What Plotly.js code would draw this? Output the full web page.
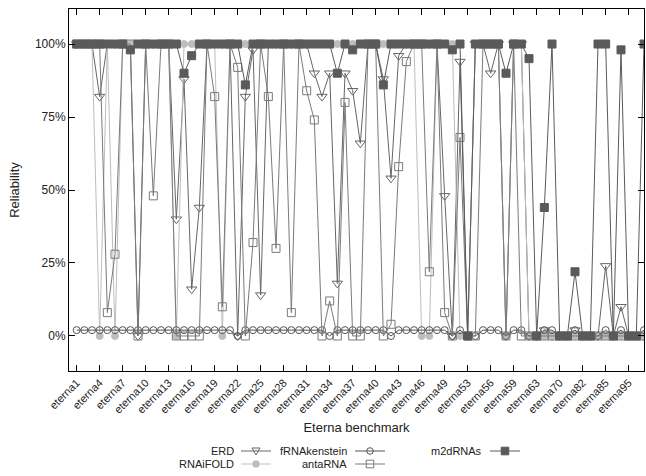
<!DOCTYPE html>
<html>
<head>
<meta charset="utf-8">
<script src="https://cdn.plot.ly/plotly-3.0.1.min.js"></script>
<style>html,body{margin:0;padding:0;background:#fff;}#chart{width:646px;height:476px;}</style>
</head>
<body>
<div id="chart"></div>
<script>
// Categories (Eterna benchmark puzzles)
const categories = [
  "eterna1","eterna2","eterna3","eterna4","eterna5","eterna6","eterna7","eterna8","eterna9","eterna10",
  "eterna11","eterna12","eterna13","eterna14","eterna15","eterna16","eterna17","eterna18","eterna19","eterna20",
  "eterna21","eterna22","eterna23","eterna24","eterna25","eterna26","eterna27","eterna28","eterna29","eterna30",
  "eterna31","eterna32","eterna33","eterna34","eterna35","eterna36","eterna37","eterna38","eterna39","eterna40",
  "eterna41","eterna42","eterna43","eterna44","eterna45","eterna46","eterna47","eterna48","eterna49","eterna50",
  "eterna52","eterna53","eterna54","eterna55","eterna56","eterna57","eterna58","eterna59","eterna60","eterna62",
  "eterna63","eterna65","eterna67","eterna70","eterna74","eterna78","eterna82","eterna83","eterna84","eterna85",
  "eterna88","eterna91","eterna95","eterna97","eterna100"
];
const tickLabels = ["eterna1","eterna4","eterna7","eterna10","eterna13","eterna16","eterna19","eterna22","eterna25",
  "eterna28","eterna31","eterna34","eterna37","eterna40","eterna43","eterna46","eterna49","eterna53","eterna56",
  "eterna59","eterna63","eterna70","eterna82","eterna85","eterna95"];
const yTickVals = [0, 25, 50, 75, 100];
const yTickText = ["0%", "25%", "50%", "75%", "100%"];

// Series values (reliability, %)
const ERD = [
  100,100,100,82,100,100,100,100,0,100,
  100,100,100,40,88,16,44,100,100,100,
  100,0,82,98,14,100,100,100,100,100,
  100,90,82,90,18,90,84,66,100,100,
  88,54,96,100,100,100,100,100,48,0,
  94,0,100,100,90,100,0,100,100,0,
  0,2,0,0,0,2,0,0,0,24,
  0,10,0,0,0
];
const RNAiFOLD = [
  100,100,100,0,100,0,100,100,100,100,
  100,100,100,0,100,100,100,100,100,0,
  100,100,100,100,100,100,100,100,100,100,
  100,100,100,100,100,100,100,100,100,100,
  100,100,100,100,100,0,0,100,100,100,
  0,0,100,100,100,100,0,100,100,0,
  0,0,0,0,0,0,0,0,0,0,
  0,0,0,0,0
];
const fRNAkenstein = [
  2,2,2,2,2,2,2,2,2,2,
  2,2,2,2,2,2,2,2,2,2,
  2,0,2,2,2,2,2,2,2,2,
  2,2,2,0,2,2,2,2,2,2,
  2,0,2,2,2,2,2,2,2,0,
  2,0,0,2,2,2,0,2,2,0,
  0,2,2,0,0,2,0,0,0,2,
  0,2,0,0,2
];
const antaRNA = [
  100,100,100,100,8,28,100,100,0,100,
  48,100,100,0,0,0,0,100,82,10,
  100,92,0,32,100,82,30,100,8,100,
  84,74,0,12,0,80,0,0,100,100,
  0,4,58,94,100,100,22,100,8,0,
  68,0,0,100,100,100,0,100,0,0,
  0,0,0,0,0,0,0,0,0,0,
  0,0,0,0,0
];
const m2dRNAs = [
  100,100,100,100,100,100,100,98,100,100,
  100,100,100,100,90,96,100,100,100,100,
  100,100,86,100,100,100,100,100,100,100,
  100,100,100,100,90,100,98,100,100,100,
  86,100,100,100,100,100,100,100,100,98,
  100,0,100,100,100,100,90,100,100,95,
  0,44,100,0,0,22,0,0,100,100,
  0,98,0,0,100
];

const seriesNames = ["ERD", "RNAiFOLD", "fRNAkenstein", "antaRNA", "m2dRNAs"];
const seriesValues = [ERD, RNAiFOLD, fRNAkenstein, antaRNA, m2dRNAs];
const styles = {
  "ERD":          {color: "#666666", symbol: "triangle-down-open", size: 9},
  "RNAiFOLD":     {color: "#bdbdbd", symbol: "circle", size: 7},
  "fRNAkenstein": {color: "#555555", symbol: "circle-open", size: 7},
  "antaRNA":      {color: "#7a7a7a", symbol: "square-open", size: 8},
  "m2dRNAs":      {color: "#5a5a5a", symbol: "square", size: 8}
};

const traces = seriesNames.map((name, k) => ({
  type: "scatter",
  mode: "lines+markers",
  name: name,
  x: categories,
  y: seriesValues[k],
  line: {color: styles[name].color, width: 1},
  marker: {symbol: styles[name].symbol, size: styles[name].size, color: styles[name].color,
           line: {color: styles[name].color, width: 1}},
  showlegend: false,
  hoverinfo: "x+y+name"
}));

const W = 646, H = 476;
const M = {l: 69, r: 2, t: 9, b: 105};
const PW = W - M.l - M.r, PH = H - M.t - M.b;
const px = v => (v - M.l) / PW;
const py = v => (H - M.b - v) / PH;

// Gnuplot-style key: text on the left, sample on the right
const keyRows = [451, 464];
const keyCols = [{text: 236, s0: 241, s1: 271}, {text: 349, s0: 355, s1: 385}, {text: 484, s0: 490, s1: 520}];
const keyPlace = {"ERD": [0, 0], "RNAiFOLD": [0, 1], "fRNAkenstein": [1, 0], "antaRNA": [1, 1], "m2dRNAs": [2, 0]};
const annotations = [];
const shapes = [];
seriesNames.forEach(name => {
  const [c, r] = keyPlace[name];
  const col = keyCols[c], yy = keyRows[r], st = styles[name];
  annotations.push({text: name, xref: "paper", yref: "paper", x: px(col.text), y: py(yy),
    xanchor: "right", yanchor: "middle", showarrow: false,
    font: {family: "Liberation Sans, Arial, sans-serif", size: 11, color: "#222"}});
  shapes.push({type: "line", xref: "paper", yref: "paper", x0: px(col.s0), x1: px(col.s1), y0: py(yy), y1: py(yy),
    line: {color: st.color, width: 1}});
  const cx = (col.s0 + col.s1) / 2;
  if (st.symbol === "triangle-down-open") {
    const h = 4;
    shapes.push({type: "path", xref: "paper", yref: "paper",
      path: `M ${px(cx - h)},${py(yy - h + 1)} L ${px(cx + h)},${py(yy - h + 1)} L ${px(cx)},${py(yy + h)} Z`,
      line: {color: st.color, width: 1}, fillcolor: "rgba(0,0,0,0)"});
  } else if (st.symbol.startsWith("circle")) {
    const rr = 3.3;
    shapes.push({type: "circle", xref: "paper", yref: "paper", x0: px(cx - rr), x1: px(cx + rr), y0: py(yy + rr), y1: py(yy - rr),
      line: {color: st.color, width: 1}, fillcolor: st.symbol === "circle" ? st.color : "rgba(0,0,0,0)"});
  } else {
    const rr = 3.8;
    shapes.push({type: "rect", xref: "paper", yref: "paper", x0: px(cx - rr), x1: px(cx + rr), y0: py(yy + rr), y1: py(yy - rr),
      line: {color: st.color, width: 1}, fillcolor: st.symbol === "square" ? st.color : "rgba(0,0,0,0)"});
  }
});

const layout = {
  width: W, height: H,
  margin: M,
  paper_bgcolor: "#ffffff", plot_bgcolor: "#ffffff",
  font: {family: "Liberation Sans, Arial, sans-serif", size: 11, color: "#222"},
  showlegend: false,
  xaxis: {
    type: "category", categoryorder: "array", categoryarray: categories,
    range: [-1, 74], tickmode: "array", tickvals: tickLabels, ticktext: tickLabels,
    tickangle: -45, ticks: "inside", ticklen: 6, tickcolor: "#000", tickwidth: 1,
    mirror: "ticks", showline: true, linecolor: "#000", linewidth: 1,
    showgrid: false, zeroline: false, automargin: false,
    tickfont: {size: 11, color: "#222"},
    title: {text: "Eterna benchmark", font: {size: 13, color: "#222"}, standoff: 8}
  },
  yaxis: {
    range: [-12, 112], tickmode: "array", tickvals: yTickVals, ticktext: yTickText,
    ticks: "inside", ticklen: 6, tickcolor: "#000", tickwidth: 1,
    mirror: "ticks", showline: true, linecolor: "#000", linewidth: 1,
    showgrid: false, zeroline: false, automargin: false,
    tickfont: {size: 12, color: "#222"},
    title: {text: "Reliability", font: {size: 13, color: "#222"}, standoff: 12}
  },
  annotations: annotations,
  shapes: shapes
};

Plotly.newPlot("chart", traces, layout, {staticPlot: true, displayModeBar: false});
</script>
</body>
</html>
